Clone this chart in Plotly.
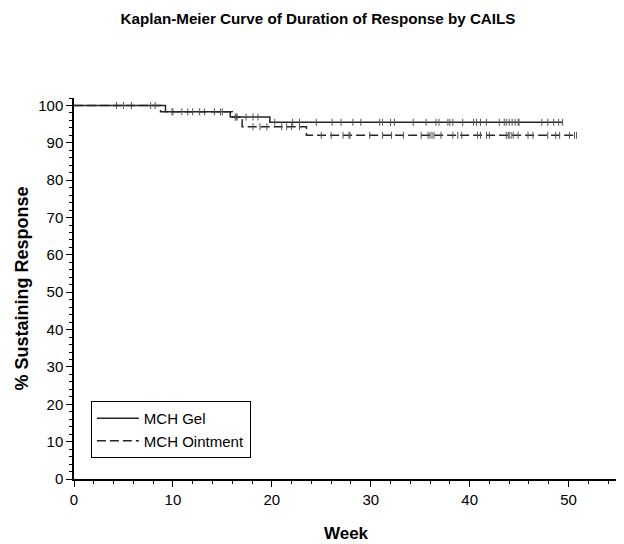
import numpy as np
import plotly.graph_objects as go

# ---- data ----
gel_event_weeks = [0, 9.25, 15.8, 19.8]
gel_survival = [100, 98.3, 96.9, 95.5]
gel_censor_weeks = [4.3, 5.0, 5.8, 7.75, 10.0, 11.5, 13.2, 14.8, 16.4, 17.4, 18.1, 18.6,
                    20.3, 22.1, 22.8, 24.5, 26.1, 27.0, 28.2, 29.0, 30.9, 31.2, 32.0,
                    32.4, 34.3, 35.6, 36.6, 36.9, 37.8, 38.0, 38.3, 39.3, 40.4, 40.7,
                    41.1, 41.7, 43.0, 43.5, 43.7, 44.0, 44.3, 44.6, 44.9, 45.0, 47.3,
                    47.9, 48.5, 49.0, 49.4]

oint_event_weeks = [0, 8.75, 16.0, 17.0, 23.5]
oint_survival = [100, 98.3, 96.9, 94.3, 92.0]
oint_censor_weeks = [8.2, 9.9, 10.9, 12.0, 12.7, 14.2, 15.0, 16.3, 16.5, 18.1, 18.8,
                     19.5, 21.0, 21.5, 22.0, 22.8, 25.0, 26.0, 27.2, 27.8, 27.9, 29.9,
                     31.2, 32.1, 33.3, 35.1, 35.8, 36.0, 36.2, 36.4, 37.1, 38.3, 38.8,
                     39.2, 40.8, 41.1, 41.7, 42.0, 43.7, 43.9, 44.0, 44.2, 44.4, 44.9,
                     45.9, 46.4, 47.9, 48.7, 49.1, 50.1, 50.6, 50.8]

x_ticks = [0, 10, 20, 30, 40, 50]
y_ticks = [0, 10, 20, 30, 40, 50, 60, 70, 80, 90, 100]

LINE = "#262626"

# page body has an 8px margin; the figure is sized so the final picture lines up
W, H = 616, 536


def step_value(ev_t, ev_s, t):
    idx = np.searchsorted(np.array(ev_t), t, side="right") - 1
    return [ev_s[i] for i in idx]


def km_xy(ev_t, ev_s, censor):
    end = max(censor)
    xs = list(ev_t) + [end]
    ys = list(ev_s) + [ev_s[-1]]
    return xs, ys


fig = go.Figure()

for name, ev_t, ev_s, cens, dash in [
    ("MCH Gel", gel_event_weeks, gel_survival, gel_censor_weeks, "solid"),
    ("MCH Ointment", oint_event_weeks, oint_survival, oint_censor_weeks, "9px,4px"),
]:
    xs, ys = km_xy(ev_t, ev_s, cens)
    fig.add_trace(go.Scatter(
        x=xs, y=ys, mode="lines", name=name,
        line=dict(color=LINE, width=1.5, shape="hv", dash=dash),
    ))
    fig.add_trace(go.Scatter(
        x=cens, y=step_value(ev_t, ev_s, cens), mode="markers", showlegend=False,
        marker=dict(symbol="line-ns", size=5, line=dict(color="#555555", width=1)),
        hoverinfo="skip",
    ))

fig.update_layout(
    width=W, height=H,
    margin=dict(l=66, r=6, t=90, b=65, autoexpand=False),
    paper_bgcolor="white", plot_bgcolor="white",
    font=dict(family="Liberation Sans, Arial, sans-serif", color="black", size=15),
    title=dict(
        text="<b>Kaplan-Meier Curve of Duration of Response by CAILS</b>",
        x=310 / W, xref="container", xanchor="center",
        y=1 - 11 / H, yref="container", yanchor="middle",
        font=dict(size=15.2, color="black"),
        automargin=False,
    ),
    showlegend=True,
    legend=dict(
        x=0.031, y=0.205, xanchor="left", yanchor="top",
        bordercolor="black", borderwidth=1, bgcolor="white",
        font=dict(size=15), tracegroupgap=0, itemwidth=42,
    ),
    xaxis=dict(
        range=[0, 55], tickvals=x_ticks, showgrid=False, zeroline=False,
        showline=True, linecolor="black", linewidth=1.5, automargin=False,
        ticks="outside", ticklen=6, tickcolor="black", tickwidth=1,
        minor=dict(dtick=2, ticks="outside", ticklen=3, tickcolor="black", showgrid=False),
        tickfont=dict(size=15),
        title=dict(text="<b>Week</b>", font=dict(size=17), standoff=20),
    ),
    yaxis=dict(
        range=[0, 102], tickvals=y_ticks, showgrid=False, zeroline=False,
        showline=True, linecolor="black", linewidth=1.5, automargin=False,
        ticks="outside", ticklen=6, tickcolor="black", tickwidth=1,
        minor=dict(dtick=2, ticks="outside", ticklen=3, tickcolor="black", showgrid=False),
        tickfont=dict(size=15),
        title=dict(text="<b>% Sustaining Response</b>", font=dict(size=18), standoff=5),
    ),
)

fig.write_html("out.html")
